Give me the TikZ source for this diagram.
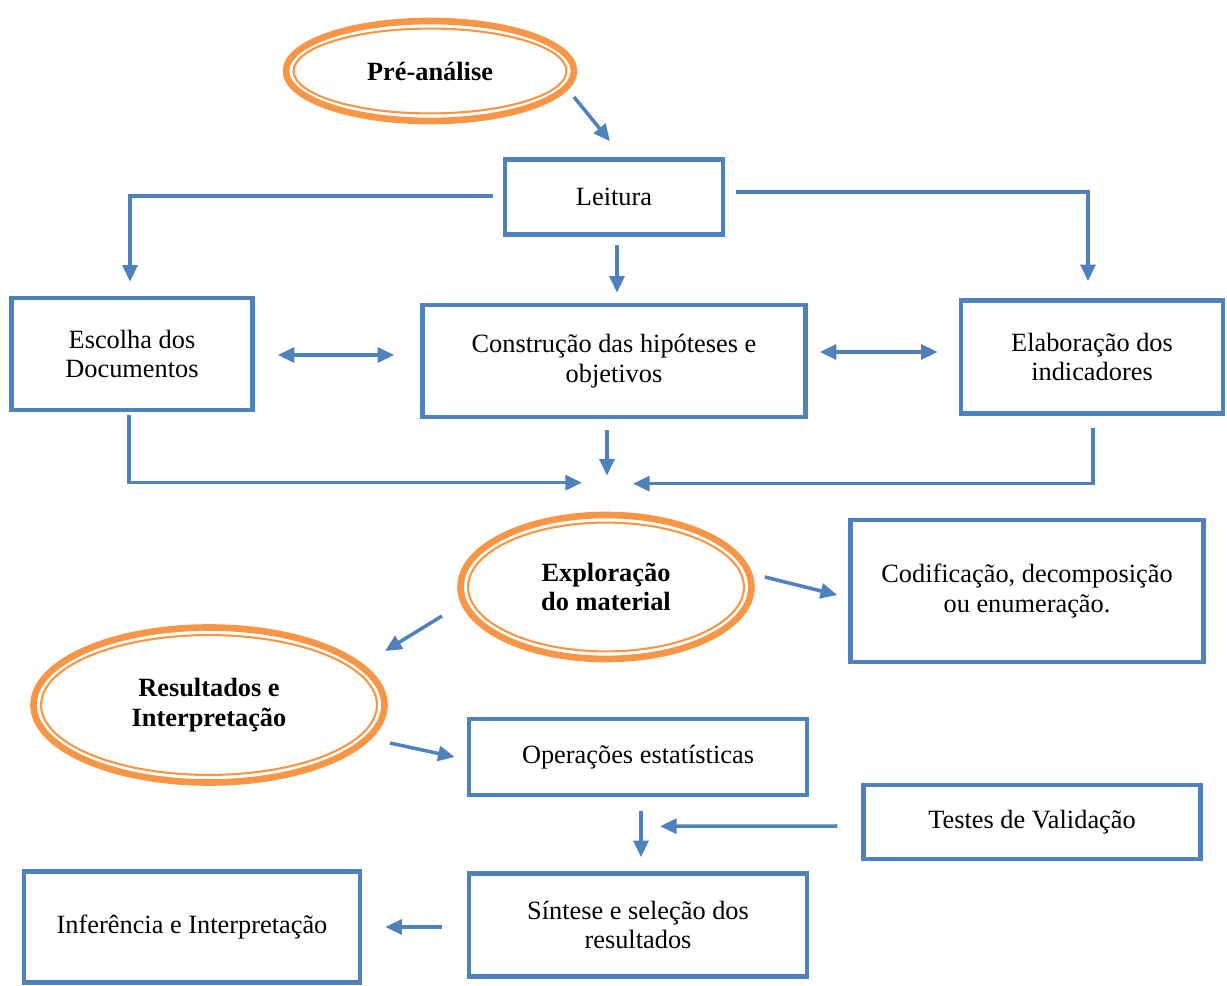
\documentclass[tikz,border=0pt]{standalone}
\usepackage{fontspec}
\setmainfont{Liberation Serif}
\usepackage{xcolor}
\usepackage{tikz}
\usetikzlibrary{shapes.geometric, arrows.meta, calc}

\definecolor{boxblue}{HTML}{4F81BD}
\definecolor{ringorange}{HTML}{F79646}

% thin inner line of the orange rings
\newcommand{\innerring}[1]{%
  \draw[ringorange, line width=1.2pt]
    let \p1 = ($(#1.east)-(#1.center)$), \p2 = ($(#1.north)-(#1.center)$) in
    (#1.center) ellipse [x radius=\x1-6.2pt, y radius=\y2-6.2pt];}

\begin{document}
\begin{tikzpicture}[
    x = 0.02cm, y = -0.02cm,
    every node/.style = {align=center, font=\fontsize{15}{17}\selectfont},
    stage/.style = {draw=boxblue, line width=2.6pt, rectangle},
    phase/.style = {draw=ringorange, line width=3.8pt, ellipse,
        font=\fontsize{15}{17}\selectfont\bfseries},
    flow/.style = {draw=boxblue, line width=2pt,
        -{Triangle[length=9.5pt, width=8.5pt]}},
    twoway/.style = {flow, {Triangle[length=9.5pt, width=8.5pt]}-{Triangle[length=9.5pt, width=8.5pt]}}
  ]
    \useasboundingbox (0,0) rectangle (1227,986);

    % fases
    \node[phase, minimum width=5.76cm, minimum height=2cm] (pre) at (430,71) {Pré-análise};
    \node[phase, minimum width=5.82cm, minimum height=2.88cm] (exploracao) at (606,587) {Exploração\\do material};
    \node[phase, minimum width=7.02cm, minimum height=3.1cm] (resultados) at (209,705) {Resultados e\\Interpretação};
    \innerring{pre}
    \innerring{exploracao}
    \innerring{resultados}

    % etapas
    \node[stage, minimum width=4.36cm, minimum height=1.5cm] (leitura) at (614,197) {Leitura};
    \node[stage, minimum width=4.82cm, minimum height=2.24cm] (escolha) at (132,354) {Escolha dos\\Documentos};
    \node[stage, minimum width=7.66cm, minimum height=2.24cm] (construcao) at (614,361) {Construção das hipóteses e\\objetivos};
    \node[stage, minimum width=5.24cm, minimum height=2.26cm] (elaboracao) at (1092,357) {Elaboração dos\\indicadores};
    \node[stage, minimum width=7.06cm, minimum height=2.84cm] (codificacao) at (1027,591) {Codificação, decomposição\\ou enumeração.};
    \node[stage, minimum width=6.76cm, minimum height=1.52cm] (operacoes) at (638,757) {Operações estatísticas};
    \node[stage, minimum width=6.74cm, minimum height=1.48cm] (testes) at (1032,822) {Testes de Validação};
    \node[stage, minimum width=6.76cm, minimum height=2.06cm] (sintese) at (638,925) {Síntese e seleção dos\\resultados};
    \node[stage, minimum width=6.72cm, minimum height=2.22cm] (inferencia) at (192,927) {Inferência e Interpretação};

    % ligacoes
    \draw[flow] ($(pre.center)+(144,26)$) -- ($(leitura.north)+(-4,-16)$);
    \draw[flow] ($(leitura.west)+(-10,-1)$) -| ($(escolha.north)+(-2,-14)$);
    \draw[flow] ($(leitura.south)+(3,8)$) -- ($(construcao.north)+(3,-10)$);
    \draw[flow] ($(leitura.east)+(11,-5)$) -| ($(elaboracao.north)+(-4,-17)$);
    \draw[twoway] ($(escolha.east)+(23,1)$) -- ($(construcao.west)+(-26,-6)$);
    \draw[twoway] ($(construcao.east)+(12,-9)$) -- ($(elaboracao.west)+(-21,-5)$);
    \draw[flow] ($(escolha.south)+(-3,3)$) |- ($(exploracao.north)+(-24,-29)$);
    \draw[flow] ($(construcao.south)+(-7,11)$) -- ($(exploracao.north)+(1,-36)$);
    \draw[flow] ($(elaboracao.south)+(1,12)$) |- ($(exploracao.north)+(27,-28)$);
    \draw[flow] ($(exploracao.east)+(10,-10)$) -- ($(codificacao.west)+(-11,4)$);
    \draw[flow] ($(exploracao.center)+(-164,29)$) -- ($(resultados.center)+(176,-54)$);
    \draw[flow] ($(resultados.center)+(181,38)$) -- ($(operacoes.west)+(-12,0)$);
    \draw[flow] ($(operacoes.south)+(3,14)$) -- ($(sintese.north)+(3,-14)$);
    \draw[flow] ($(testes.west)+(-24,4)$) -- ($(sintese.north)+(22,-45)$);
    \draw[flow] ($(sintese.west)+(-25,2)$) -- ($(inferencia.east)+(23,0)$);
\end{tikzpicture}
\end{document}
